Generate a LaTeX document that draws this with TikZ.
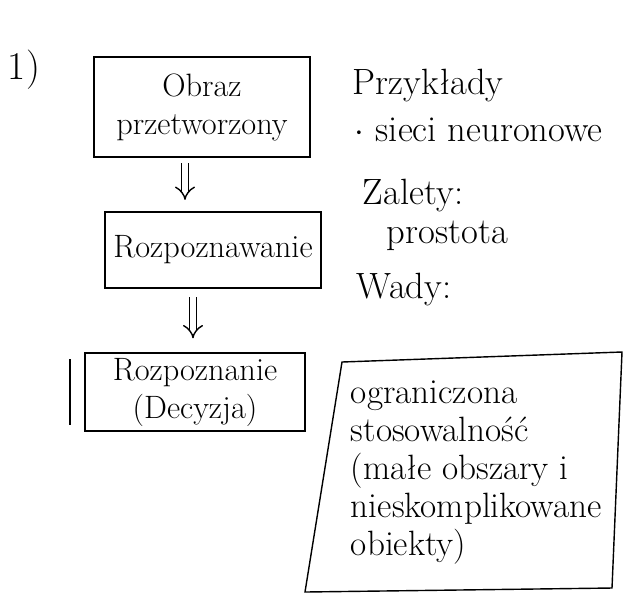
\documentclass[tikz,border=0pt]{standalone}
\usepackage{fontspec}
\usetikzlibrary{arrows.meta,positioning}
\tikzset{
  stagebox/.style={draw, line width=1.2pt, minimum width=5.4cm, minimum height=1.9cm,
    align=center, font=\fontsize{23}{27}\selectfont},
  note/.style={anchor=west, font=\fontsize{26}{28}\selectfont},
  thenarrow/.style={double, double distance=4pt, line width=1pt, -{Implies}}
}
\begin{document}
\begin{tikzpicture}[x=0.025cm, y=-0.025cm]
    \useasboundingbox (0,0) rectangle (629,608);
		\node[font=\fontsize{28}{30}\selectfont] (num) at (24,70) {1)};
		\node[stagebox, minimum height=2.5cm] (obraz) at (202,107) {Obraz\\przetworzony};
		\node[stagebox] (rozp) at (213,250) {Rozpoznawanie};
		\node[stagebox, minimum width=5.5cm] (decyzja) at (195,392) {Rozpoznanie\\(Decyzja)};
		\draw[line width=1pt] ([xshift=-10pt,yshift=-5pt]decyzja.north west) -- ([xshift=-10pt,yshift=5pt]decyzja.south west);
		\coordinate (a1) at ([xshift=-17*0.025cm,yshift=-4pt]obraz.south);
		\coordinate (a2) at ([xshift=-20*0.025cm,yshift=-6pt]rozp.south);
		\draw[thenarrow] (a1) -- ([yshift=8pt]a1 |- rozp.north);
		\draw[thenarrow] (a2) -- ([yshift=10pt]a2 |- decyzja.north);
		\node[note] (przyklady) at (348,86) {Przykłady};
		\node[note] (sieci) at (350,130) {$\cdot$ sieci neuronowe};
		\node[note] (zalety) at (358,196) {Zalety:};
		\node[note] (prostota) at (382,236) {prostota};
		\node[note] (wady) at (352,290) {Wady:};
		\node[align=left, anchor=north west, font=\fontsize{25}{27}\selectfont] (wady txt) at (346,376)
            {ograniczona\\stosowalność\\(małe obszary i\\nieskomplikowane\\obiekty)};
		\draw[line width=1pt] (342,362) -- (622,352) -- (612,588) -- (305,592) -- cycle;
	\end{tikzpicture}
\end{document}
